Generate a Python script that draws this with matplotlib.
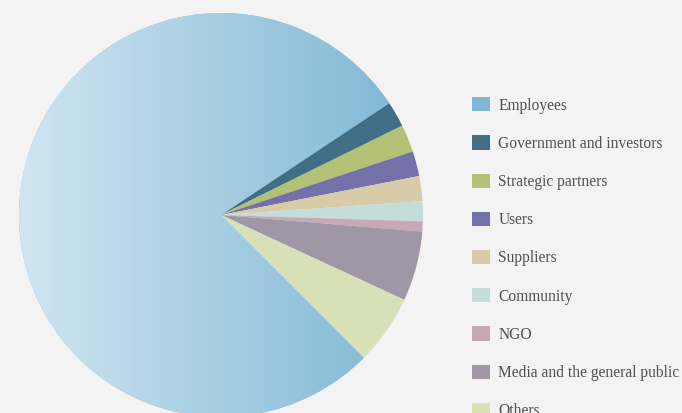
import numpy as np
import matplotlib
matplotlib.use('Agg')
import matplotlib.pyplot as plt
from matplotlib.patches import Patch
from matplotlib.colors import LinearSegmentedColormap

labels = ['Employees', 'Government and investors', 'Strategic partners', 'Users',
          'Suppliers', 'Community', 'NGO', 'Media and the general public', 'Others']
shares = [78.2, 2.05, 2.2, 2.0, 2.0, 1.6, 0.8, 5.6, 5.6]
colors = ['#7fb8d6', '#416e85', '#b4c074', '#7470a8', '#d8cba7',
          '#c5ddd8', '#c8a8b6', '#a097a6', '#d8e0b8']

W, H = 682, 413
fig = plt.figure(figsize=(W / 100, H / 100), dpi=100, facecolor='#f3f3f3')
ax = fig.add_axes([0, 0, 1, 1])
ax.set_facecolor('#f3f3f3')

cx, cy, r = 221, H - 215, 202
wedges, _ = ax.pie(shares, colors=colors, startangle=-45, counterclock=False,
                   center=(cx, cy), radius=r, frame=True,
                   wedgeprops=dict(linewidth=0))

# horizontal gradient on the big slice
grad = LinearSegmentedColormap.from_list('g', ['#d0e5f1', '#7cb6d4'])
img = ax.imshow(np.linspace(0, 1, 256).reshape(1, -1), cmap=grad, aspect='auto',
                extent=(cx - r, cx + r, cy - r, cy + r), zorder=wedges[0].get_zorder() + 0.5)
img.set_clip_path(wedges[0])

ax.set_xlim(0, W)
ax.set_ylim(0, H)
ax.set_aspect('equal')
ax.axis('off')

handles = [Patch(facecolor=c, edgecolor='none') for c in colors]
leg = ax.legend(handles, labels, loc='upper left', bbox_to_anchor=(466 / W, 1 - 91 / H),
                frameon=False, prop={'family': 'Liberation Serif', 'size': 11.2},
                labelcolor='#505050', handlelength=1.16, handleheight=1.03,
                labelspacing=1.40, handletextpad=0.51, borderaxespad=0)

fig.savefig('out.png', dpi=100, facecolor=fig.get_facecolor())
